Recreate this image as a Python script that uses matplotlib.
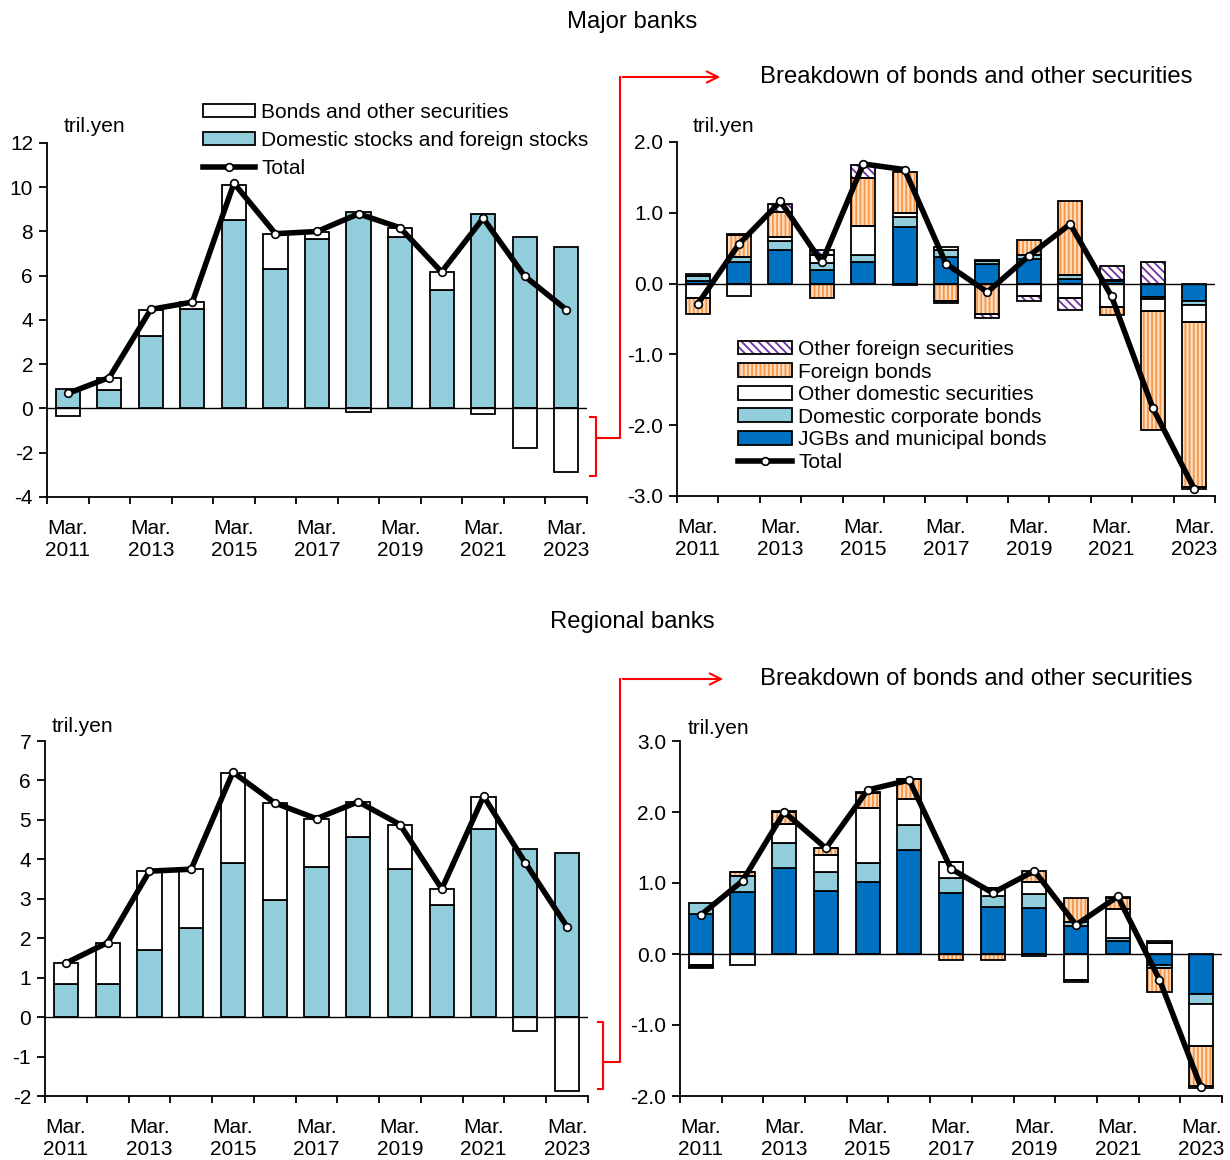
import matplotlib
matplotlib.use("Agg")
import matplotlib.pyplot as plt
import numpy as np
from matplotlib.patches import Patch, FancyArrowPatch
from matplotlib.lines import Line2D

plt.rcParams['font.family'] = ['Liberation Sans', 'DejaVu Sans']
plt.rcParams['font.size'] = 15
plt.rcParams['axes.unicode_minus'] = False
plt.rcParams['hatch.linewidth'] = 1.3

years = list(range(2011, 2024))
tick_labels = ["Mar.\n%d" % y for y in years[::2]]

# major banks, tril. yen
major_stocks = [0.90, 0.83, 3.26, 4.51, 8.50, 6.32, 7.64, 8.87, 7.77, 5.34, 8.77, 7.77, 7.32]
major_bonds = [-0.35, 0.55, 1.18, 0.30, 1.62, 1.55, 0.33, -0.18, 0.38, 0.83, -0.26, -1.80, -2.89]
major_total = [0.68, 1.40, 4.48, 4.81, 10.18, 7.90, 8.00, 8.80, 8.17, 6.17, 8.60, 5.98, 4.47]

major_jgb = [0.04, 0.30, 0.47, 0.19, 0.30, 0.80, 0.37, 0.27, 0.35, 0.07, 0.04, -0.19, -0.25]
major_corp = [0.07, 0.08, 0.13, 0.10, 0.11, 0.14, 0.10, 0.05, 0.06, 0.05, 0.01, -0.03, -0.05]
major_otherdom = [-0.21, -0.17, 0.06, 0.12, 0.41, 0.06, 0.04, 0.01, -0.17, -0.20, -0.33, -0.16, -0.24]
major_fbonds = [-0.22, 0.30, 0.35, -0.20, 0.67, 0.57, -0.24, -0.43, 0.21, 1.05, -0.12, -1.69, -2.33]
major_otherfor = [0.02, 0.02, 0.11, 0.06, 0.18, -0.02, -0.03, -0.05, -0.08, -0.17, 0.20, 0.31, -0.03]
major_bd_total = [-0.29, 0.56, 1.16, 0.30, 1.69, 1.61, 0.28, -0.12, 0.39, 0.84, -0.18, -1.76, -2.90]

# regional banks, tril. yen
reg_stocks = [0.84, 0.84, 1.70, 2.27, 3.90, 2.98, 3.81, 4.57, 3.75, 2.84, 4.78, 4.26, 4.15]
reg_bonds = [0.52, 1.03, 2.00, 1.48, 2.30, 2.45, 1.22, 0.89, 1.12, 0.41, 0.80, -0.36, -1.88]
reg_total = [1.37, 1.89, 3.70, 3.75, 6.21, 5.43, 5.03, 5.46, 4.88, 3.25, 5.60, 3.91, 2.29]

reg_jgb = [0.56, 0.87, 1.21, 0.89, 1.01, 1.47, 0.86, 0.66, 0.65, 0.40, 0.19, -0.16, -0.56]
reg_corp = [0.16, 0.23, 0.35, 0.27, 0.27, 0.35, 0.21, 0.16, 0.20, 0.05, 0.04, -0.04, -0.14]
reg_otherdom = [-0.15, -0.16, 0.27, 0.24, 0.77, 0.37, 0.23, 0.11, 0.16, -0.37, 0.40, 0.16, -0.60]
reg_fbonds = [-0.03, 0.06, 0.17, 0.09, 0.22, 0.28, -0.08, -0.09, 0.16, 0.34, 0.16, -0.34, -0.56]
reg_otherfor = [-0.02, 0.00, 0.01, 0.01, 0.01, 0.00, 0.00, 0.00, -0.03, -0.03, 0.01, 0.03, -0.03]
reg_bd_total = [0.55, 1.03, 2.00, 1.49, 2.31, 2.45, 1.20, 0.86, 1.17, 0.41, 0.81, -0.36, -1.88]

LIGHT = '#92CDDC'
DARK = '#0070C0'
ORANGE = '#F79646'
PEACH = '#FDDCC0'
PURPLE = '#7030A0'
W = 0.58
x = np.arange(len(years))


def stack(ax, series):
    # series: list of (values, face, hatch, hatchcolor)
    pos = np.zeros(len(x))
    neg = np.zeros(len(x))
    for vals, face, hatch, hcol in series:
        v = np.array(vals)
        base = np.where(v >= 0, pos, neg)
        if hatch:
            ax.bar(x, v, W, bottom=base, color=face, edgecolor=hcol, hatch=hatch, lw=0, zorder=2)
            ax.bar(x, v, W, bottom=base, fill=False, edgecolor='black', lw=1.3, zorder=3)
        else:
            ax.bar(x, v, W, bottom=base, color=face, edgecolor='black', lw=1.3, zorder=3)
        pos = pos + np.where(v >= 0, v, 0)
        neg = neg + np.where(v < 0, v, 0)


def style(ax, lo, hi, step, fmt):
    ax.set_xlim(-0.5, len(x) - 0.5)
    ax.set_ylim(lo, hi)
    ax.set_yticks(np.arange(lo, hi + step / 2, step))
    ax.yaxis.set_major_formatter(plt.FormatStrFormatter(fmt))
    ax.set_xticks(np.arange(-0.5, len(x), 1.0))
    ax.set_xticklabels([])
    ax.set_xticks(x[::2], minor=True)
    ax.set_xticklabels(tick_labels, minor=True, linespacing=1.2)
    ax.tick_params(axis='x', which='major', direction='out', length=5, width=1.3)
    ax.tick_params(axis='x', which='minor', length=0, pad=16)
    ax.tick_params(axis='y', direction='out', length=6, width=1.3, pad=4)
    ax.spines['top'].set_visible(False)
    ax.spines['right'].set_visible(False)
    ax.spines['left'].set_linewidth(1.3)
    ax.spines['bottom'].set_linewidth(1.3)
    ax.axhline(0, color='black', lw=1.0, zorder=4)


def total_line(ax, vals):
    ax.plot(x, vals, color='black', lw=4, marker='o', markersize=5.5,
            markerfacecolor='white', markeredgecolor='black', markeredgewidth=1.2, zorder=6)


fig = plt.figure(figsize=(12.3, 11.6), dpi=100)
ax1 = fig.add_axes([47 / 1230, 1 - 497 / 1160, 540 / 1230, 354 / 1160])
ax2 = fig.add_axes([677 / 1230, 1 - 496 / 1160, 538 / 1230, 354 / 1160])
ax3 = fig.add_axes([45 / 1230, 1 - 1096 / 1160, 543 / 1230, 355 / 1160])
ax4 = fig.add_axes([680 / 1230, 1 - 1096 / 1160, 542 / 1230, 355 / 1160])

# left panels
for ax, st, bd, tot in [(ax1, major_stocks, major_bonds, major_total),
                        (ax3, reg_stocks, reg_bonds, reg_total)]:
    stack(ax, [(st, LIGHT, None, None), (bd, 'white', None, None)])
    total_line(ax, tot)

# breakdown panels
for ax, d in [(ax2, (major_jgb, major_corp, major_otherdom, major_fbonds, major_otherfor, major_bd_total)),
              (ax4, (reg_jgb, reg_corp, reg_otherdom, reg_fbonds, reg_otherfor, reg_bd_total))]:
    stack(ax, [(d[0], DARK, None, None), (d[1], LIGHT, None, None), (d[2], 'white', None, None),
               (d[3], PEACH, '||||', ORANGE), (d[4], 'white', '\\\\\\\\', PURPLE)])
    total_line(ax, d[5])

style(ax1, -4, 12, 2, '%d')
style(ax2, -3, 2, 1, '%.1f')
style(ax3, -2, 7, 1, '%d')
style(ax4, -2, 3, 1, '%.1f')

fig.text(64 / 1230, 1 - 127 / 1160, 'tril.yen', va='center')
fig.text(693 / 1230, 1 - 126 / 1160, 'tril.yen', va='center')
fig.text(52 / 1230, 1 - 727 / 1160, 'tril.yen', va='center')
fig.text(688 / 1230, 1 - 729 / 1160, 'tril.yen', va='center')

fig.text(632 / 1230, 1 - 22 / 1160, 'Major banks', ha='center', va='center', fontsize=17.2)
fig.text(632 / 1230, 1 - 622 / 1160, 'Regional banks', ha='center', va='center', fontsize=17.2)
fig.text(976 / 1230, 1 - 77 / 1160, 'Breakdown of bonds and other securities', ha='center', va='center', fontsize=17.2)
fig.text(976 / 1230, 1 - 679 / 1160, 'Breakdown of bonds and other securities', ha='center', va='center', fontsize=17.2)

tot_handle = Line2D([], [], color='black', lw=4, marker='o', markersize=5.5,
                    markerfacecolor='white', markeredgecolor='black', markeredgewidth=1.2)
outline = Patch(fill=False, edgecolor='black', lw=1.3)

h1 = [Patch(facecolor='white', edgecolor='black', lw=1.3),
      Patch(facecolor=LIGHT, edgecolor='black', lw=1.3), tot_handle]
fig.legend(h1, ['Bonds and other securities', 'Domestic stocks and foreign stocks', 'Total'],
           loc='upper left', bbox_to_anchor=(203 / 1230, 1 - 103 / 1160), frameon=False,
           borderpad=0, borderaxespad=0, handlelength=2.5, handleheight=0.63,
           handletextpad=0.29, labelspacing=0.43)

h2 = [(Patch(facecolor='white', edgecolor=PURPLE, hatch='\\\\\\\\', lw=0), outline),
      (Patch(facecolor=PEACH, edgecolor=ORANGE, hatch='||||', lw=0), outline),
      Patch(facecolor='white', edgecolor='black', lw=1.3),
      Patch(facecolor=LIGHT, edgecolor='black', lw=1.3),
      Patch(facecolor=DARK, edgecolor='black', lw=1.3), tot_handle]
fig.legend(h2, ['Other foreign securities', 'Foreign bonds', 'Other domestic securities',
                'Domestic corporate bonds', 'JGBs and municipal bonds', 'Total'],
           loc='upper left', bbox_to_anchor=(738 / 1230, 1 - 340 / 1160), frameon=False,
           borderpad=0, borderaxespad=0, handlelength=2.6, handleheight=0.63,
           handletextpad=0.29, labelspacing=0.17)


# red connectors (pixel coords from top-left)
def red_path(pts):
    xs = [p[0] / 1230 for p in pts]
    ys = [1 - p[1] / 1160 for p in pts]
    fig.add_artist(Line2D(xs, ys, color='red', lw=1.5))


def red_arrow(x0, x1, y):
    fig.add_artist(FancyArrowPatch(
        (x0 / 1230, 1 - y / 1160), (x1 / 1230, 1 - y / 1160), transform=fig.transFigure,
        arrowstyle='->', mutation_scale=20, color='red', lw=1.5))


red_path([(590, 417), (596, 417), (596, 476), (590, 476)])
red_path([(596, 438), (620, 438), (620, 77)])
red_arrow(620, 723, 77)
red_path([(598, 1022), (603, 1022), (603, 1089), (598, 1089)])
red_path([(603, 1062), (620, 1062), (620, 679)])
red_arrow(620, 726, 679)

fig.savefig('out.png', dpi=100)
